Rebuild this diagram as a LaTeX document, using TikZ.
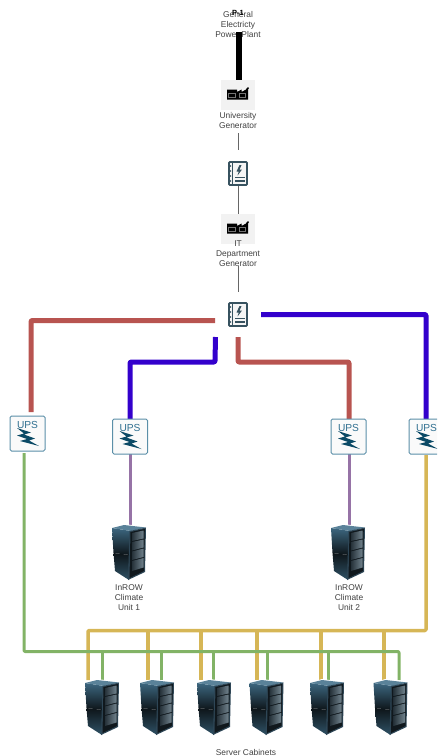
\documentclass[tikz,border=0pt]{standalone}
\usepackage{fontspec}
\setmainfont{Liberation Sans}
\usetikzlibrary{calc}
\definecolor{cred}{HTML}{B85450}
\definecolor{cblue}{HTML}{3300CC}
\definecolor{cgreen}{HTML}{82B366}
\definecolor{cyel}{HTML}{D6B656}
\definecolor{cpur}{HTML}{9673A6}
\definecolor{cgray}{HTML}{666666}
\definecolor{upsline}{HTML}{5B8FA8}
\definecolor{upstxt}{HTML}{2F6F90}
\definecolor{upsbolt}{HTML}{0B4A66}
\definecolor{panelc}{HTML}{37525F}
\definecolor{rtop}{HTML}{5A8299}
\definecolor{rside}{HTML}{3C667F}
\definecolor{rmid}{HTML}{0D1418}
\definecolor{rlow}{HTML}{2F5266}
\definecolor{rframe}{HTML}{2E4656}
\definecolor{rdark}{HTML}{10181D}
\definecolor{rslotA}{HTML}{26323A}
\definecolor{rslotB}{HTML}{71838D}
\tikzset{
  wire/.style={line join=round,rounded corners=1pt},
  redw/.style={wire,draw=cred,line width=5pt},
  bluew/.style={wire,draw=cblue,line width=5pt},
  greenw/.style={wire,draw=cgreen,line width=3pt},
  yelw/.style={wire,draw=cyel,line width=3.5pt},
  purw/.style={wire,draw=cpur,line width=3pt},
  grayw/.style={draw=cgray,line width=1pt},
  blackw/.style={draw=black,line width=6.5pt},
  lbl/.style={font=\fontsize{8.4}{10}\selectfont,text=black!75,align=center,inner sep=0pt},
  rackbox/.style={minimum width=34pt,minimum height=55pt,inner sep=0pt,outer sep=0pt},
  upsbox/.style={minimum width=35pt,minimum height=35pt,inner sep=0pt,outer sep=0pt},
  genbox/.style={minimum width=34pt,minimum height=30pt,inner sep=0pt,outer sep=0pt,fill=black!5},
  panelbox/.style={minimum width=45pt,minimum height=42pt,inner sep=0pt,outer sep=0pt},
  rack/.pic={
    \fill[white] (-1,3) -- (12,-1) -- (35,2) -- (35,47) -- (16.5,56) -- (2,46) -- cycle;
    \shade[top color=rside,bottom color=rmid] (0,3) -- (19,6) -- (18,30) -- (1.5,28) -- cycle;
    \shade[top color=rmid,bottom color=rlow] (1.5,28) -- (18,30) -- (17,55) -- (3,46) -- cycle;
    \fill[rtop] (0,3) -- (12,0) -- (34,2.5) -- (19,6) -- cycle;
    \fill[rframe] (17.5,6) -- (34,2.5) -- (33,47) -- (16,55) -- cycle;
    \fill[rdark] (18.5,7) -- (32.8,4) -- (32,46) -- (17.5,53) -- cycle;
    \foreach \a/\b/\c/\d in {8/16/5.5/13.5, 17/25.5/14.5/22.5, 26.5/35/23.5/32, 36/46/33/42.5}{
      \shade[left color=rslotA,right color=rslotB] (20,\a) -- (31.5,\c) -- (31.5,\d) -- (20,\b) -- cycle;
    }
  },
  upsicon/.pic={
    \draw[upsline,line width=1pt,fill=black!2,rounded corners=1.5pt] (0,0) rectangle (35,35);
    \node[text=upstxt,font=\fontsize{10.2}{12}\selectfont,inner sep=0pt] at (17.5,9) {UPS};
    \fill[upsbolt] (7,12) -- (21,16.5) -- (14,18.5) -- (25,22.5) -- (19,24.5) -- (29,30) -- (10,25) -- (17,23) -- (7,19.5) -- (14,17.5) -- cycle;
  },
  genicon/.pic={
    \fill[black] (0,2.5) -- (10,2.5) -- (10,5) -- (14.5,2.5) -- (14.5,5) -- (19,2.5) -- (19,2) -- (21,0) -- (22,1) -- (21,2.5) -- (21,12.5) -- (0,12.5) -- cycle;
    \draw[black!55,line width=.4pt] (1.5,6) rectangle (8,10.5) (12,6) rectangle (18,10.5);
  },
  panelicon/.pic={
    \draw[panelc,line width=1.7pt,fill=black!4,rounded corners=.8pt] (0,0) rectangle (18,23);
    \draw[panelc,line width=1pt] (3.5,0) -- (3.5,23);
    \foreach \y in {4,9,14,19}{\fill[panelc] (1.5,\y) circle (.9pt);}
    \fill[panelc] (10.5,3) -- (7.5,9.5) -- (9.8,9.5) -- (8.5,13.5) -- (13,7.5) -- (10.6,7.5) -- (12.5,3) -- cycle;
    \draw[panelc,line width=1.1pt] (6,15.5) -- (15.5,15.5) (6,19) -- (15.5,19);
  }
}
\begin{document}
\begin{tikzpicture}[x=1pt,y=-1pt]
\clip (0,0) rectangle (437,756);

% nodes
\node[lbl] (plant) at (238,24) {General\\Electricty\\Power Plant};
\node[genbox] (g1) at (238,95) {};
\node[lbl] (g1l) at (238,120) {University\\Generator};
\node[panelbox] (p1) at (238,174) {};
\node[genbox] (g2) at (238,229) {};
\node[lbl] (g2l) at (238,254) {IT\\Department\\Generator};
\node[panelbox] (p2) at (238,315) {};

\node[upsbox] (u1) at (27.5,433.5) {};
\node[upsbox] (u2) at (130,436.5) {};
\node[upsbox] (u3) at (348.5,436.5) {};
\node[upsbox] (u4) at (426.5,436.5) {};

\node[rackbox] (c1) at (129,552.5) {};
\node[rackbox] (c2) at (348,552.5) {};
\node[lbl] at (129,598) {InROW\\Climate\\Unit 1};
\node[lbl] at (349,598) {InROW\\Climate\\Unit 2};

\node[rackbox] (r1) at (102,707.5) {};
\node[rackbox] (r2) at (157,707.5) {};
\node[rackbox] (r3) at (214,707.5) {};
\node[rackbox] (r4) at (266.5,707.5) {};
\node[rackbox] (r5) at (327,707.5) {};
\node[rackbox] (r6) at (390.5,707.5) {};
\node[lbl] at (246,752.5) {Server Cabinets};

% free connector ends
\coordinate (p2redL) at (215,320.5);
\coordinate (p2blueL) at (215.5,337);
\coordinate (p2redD) at (238,337);
\coordinate (p2blueR) at (261,314.5);
\coordinate (u1top) at (31,412);
\coordinate (yb) at (426,630.5);
\coordinate (gb) at (24,651.5);

% grey / black
\draw[blackw] (239,32) -- (g1.north -| 239,0);
\draw[grayw] (238,133) -- (238,150);
\draw[grayw] (238,185) -- (g2.north);
\draw[grayw] (238,266) -- (238,292);

% red and blue
\draw[redw] (p2redL) -- (u1top |- p2redL) -- (u1top);
\draw[bluew] (p2blueL) -- (215,362) -- (u2.north |- 0,362) -- (u2.north);
\draw[redw] (p2redD) -- (238,362) -- (349,362) -- (349,419);
\draw[bluew] (p2blueR) -- (426,314.5) -- (426,419);

% purple
\draw[purw] (u2.south) -- (c1.north -| u2.south);
\draw[purw] (349,454) -- (349,525);

% yellow bus
\draw[yelw] (426,455) -- (yb) -- (88,630.5) -- ([xshift=-14pt]r1.north);
\foreach \n/\d in {r2/-9,r3/-13,r4/-9.5,r5/-6,r6/-6.5}{
  \draw[yelw,rounded corners=0pt] ([xshift=\d pt]\n.north) -- ([xshift=\d pt]\n.north |- yb);
}
% green bus
\draw[greenw] (24,453) -- (gb) -- (399,651.5) -- ([xshift=8.5pt]r6.north);
\foreach \n/\d in {r1/0,r2/4,r3/-1,r4/0.5,r5/1}{
  \draw[greenw,rounded corners=0pt] ([xshift=\d pt]\n.north) -- ([xshift=\d pt]\n.north |- gb);
}

% icons
\pic at ($(g1.north west)+(6,7)$) {genicon};
\pic at ($(g2.north west)+(6,7)$) {genicon};
\pic at (229,162) {panelicon};
\pic at (229,303) {panelicon};
\foreach \n in {u1,u2,u3,u4}{\pic at (\n.north west) {upsicon};}
\foreach \n in {c1,c2,r1,r2,r3,r4,r5,r6}{\pic at (\n.north west) {rack};}

\node[font=\fontsize{7.5}{8}\selectfont\bfseries,inner sep=0pt] at (238,12.5) {P-1};
\end{tikzpicture}
\end{document}
